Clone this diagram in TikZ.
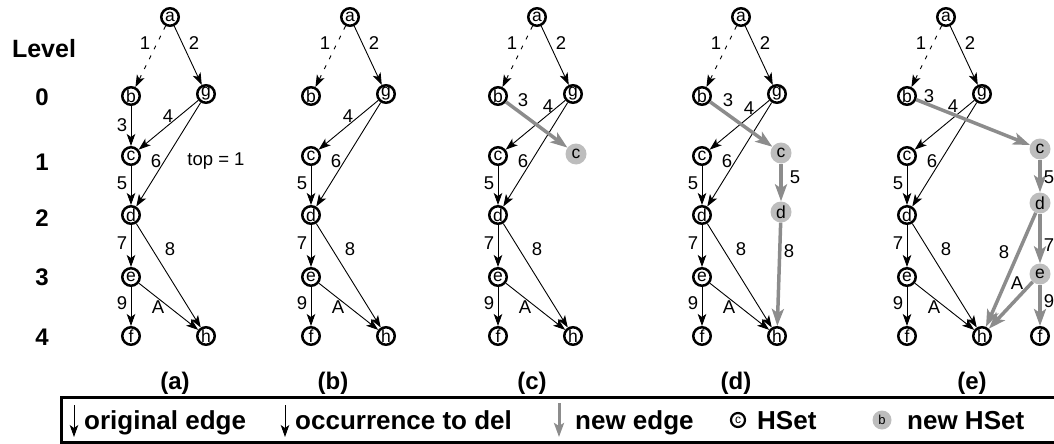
\documentclass[tikz,border=0pt]{standalone}
\usepackage{fontspec}
\setmainfont{Liberation Sans}
\usetikzlibrary{arrows.meta}
\definecolor{hsetgrey}{HTML}{BDBDBD}
\definecolor{newedgegrey}{HTML}{8C8C8C}

\tikzset{
  hset/.style={circle, draw=black, line width=2.5pt, minimum size=17.5pt, inner sep=0pt,
    font=\fontsize{17.5}{17.5}\selectfont},
  newhset/.style={circle, fill=hsetgrey, minimum size=21pt, inner sep=0pt,
    font=\fontsize{17.5}{17.5}\selectfont},
  edge/.style={line width=0.9pt, -{Stealth[length=12pt,width=8.5pt,inset=3pt]}},
  deledge/.style={edge, dash pattern=on 4pt off 7pt},
  newedge/.style={line width=3.5pt, draw=newedgegrey,
    -{Stealth[length=17pt,width=12pt,inset=4pt]}},
  lab/.style={inner sep=0pt, font=\fontsize{18.5}{18.5}\selectfont},
  boldlab/.style={inner sep=0pt, font=\fontsize{24}{24}\selectfont\bfseries},
  legtext/.style={inner sep=0pt, anchor=base west, font=\fontsize{26}{26}\selectfont\bfseries},
}

% one copy of the graph: #1 name prefix, #2 x offset, #3 position of label 4
\newcommand\graphpanel[3]{%
  \begin{scope}[shift={(#2,0)}]
    \node[hset] (#1a) at (170,17) {a};
    \node[hset] (#1b) at (131,96) {b};
    \node[hset] (#1g) at (206,94) {g};
    \node[hset] (#1c) at (131,156) {c};
    \node[hset] (#1d) at (131,215) {d};
    \node[hset] (#1e) at (131,277) {e};
    \node[hset] (#1f) at (131,336) {f};
    \node[hset] (#1h) at (206,336) {h};
    \draw[deledge] (#1a) -- (#1b);
    \draw[edge] (#1a) -- (#1g);
    \draw[edge] (#1g) -- (#1c);
    \draw[edge] (#1g) -- (#1d);
    \draw[edge] (#1c) -- (#1d);
    \draw[edge] (#1d) -- (#1e);
    \draw[edge] (#1d) -- (#1h);
    \draw[edge] (#1e) -- (#1f);
    \draw[edge] (#1e) -- (#1h);
    \node[lab] (#1l1) at (145,43) {1};
    \node[lab] (#1l2) at (194,43) {2};
    \node[lab] (#1l4) at (#3) {4};
    \node[lab] (#1l6) at (156,161) {6};
    \node[lab] (#1l5) at (122,183) {5};
    \node[lab] (#1l7) at (122,243) {7};
    \node[lab] (#1l8) at (170,249) {8};
    \node[lab] (#1l9) at (122,303) {9};
    \node[lab] (#1lA) at (158,307) {A};
  \end{scope}}

\begin{document}
\begin{tikzpicture}[x=1pt, y=-1pt]
  \useasboundingbox (0,0) rectangle (1054,444);

  % level column
  \node[boldlab, font=\fontsize{25}{25}\selectfont\bfseries] (level) at (44,49) {Level};
  \node[boldlab] (lv0) at (42,97) {0};
  \node[boldlab] (lv1) at (42,162) {1};
  \node[boldlab] (lv2) at (42,218) {2};
  \node[boldlab] (lv3) at (42,277) {3};
  \node[boldlab] (lv4) at (42,337) {4};

  % the five stages
  \graphpanel{pa}{0}{168,116}
  \graphpanel{pb}{180}{168,116}
  \graphpanel{pc}{367}{181,106}
  \graphpanel{pd}{571}{178,108}
  \graphpanel{pe}{776}{177,106}

  % (a): edge 3 still present
  \draw[edge] (pab) -- (pac);
  \node[lab] (pal3) at (122,125) {3};
  \node[lab] (top) at (216,161) {top = 1};

  % (c): c moved into the new HSet
  \node[newhset] (pcC) at (576,154) {c};
  \draw[newedge] (pcb) -- (pcC);
  \node[lab] (pcl3) at (523,100) {3};

  % (d): c and d in the new HSet
  \node[newhset] (pdC) at (781,153) {c};
  \node[newhset] (pdD) at (781,212) {d};
  \draw[newedge] (pdb) -- (pdC);
  \draw[newedge] (pdC) -- (pdD);
  \draw[newedge] (pdD) -- (pdh);
  \node[lab] (pdl3) at (728,100) {3};
  \node[lab] (pdl5) at (795,177) {5};
  \node[lab] (pdl8) at (789,251) {8};

  % (e): c, d and e in the new HSet
  \node[newhset] (peC) at (1040,149) {c};
  \node[newhset] (peD) at (1040,203) {d};
  \node[newhset] (peE) at (1040,274) {e};
  \node[hset] (peF) at (1040,336) {f};
  \draw[newedge] (peb) -- (peC);
  \draw[newedge] (peC) -- (peD);
  \draw[newedge] (peD) -- (peE);
  \draw[newedge] (peD) -- (peh);
  \draw[newedge] (peE) -- (peh);
  \draw[newedge] (peE) -- (peF);
  \node[lab] (pel3) at (929,96) {3};
  \node[lab] (pel5) at (1049,177) {5};
  \node[lab] (pel7) at (1049,245) {7};
  \node[lab] (pel8) at (1004,252) {8};
  \node[lab] (pelA) at (1017,283) {A};
  \node[lab] (pel9) at (1049,301) {9};

  % captions
  \node[boldlab, anchor=base] (capa) at (175,389) {(a)};
  \node[boldlab, anchor=base] (capb) at (333,389) {(b)};
  \node[boldlab, anchor=base] (capc) at (532,389) {(c)};
  \node[boldlab, anchor=base] (capd) at (736,389) {(d)};
  \node[boldlab, anchor=base] (cape) at (972,389) {(e)};

  % legend
  \draw[line width=3pt] (61,397) rectangle (1080,442);
  \coordinate (k1s) at (74,405);  \coordinate (k1e) at (74,437);
  \coordinate (k2s) at (285,405); \coordinate (k2e) at (285,437);
  \coordinate (k3s) at (559,403); \coordinate (k3e) at (559,437);
  \draw[edge] (k1s) -- (k1e);
  \node[legtext] (kt1) at (84,429) {original edge};
  \draw[edge] (k2s) -- (k2e);
  \node[legtext] (kt2) at (295,429) {occurrence to del};
  \draw[newedge, line width=3pt, -{Stealth[length=14pt,width=10pt,inset=3pt]}] (k3s) -- (k3e);
  \node[legtext] (kt3) at (575,429) {new edge};
  \node[hset, minimum size=14pt, line width=2.2pt, font=\fontsize{12}{12}\selectfont] (kc) at (738,420) {c};
  \node[legtext] (kt4) at (757,429) {HSet};
  \node[newhset, minimum size=19pt, font=\fontsize{13}{13}\selectfont] (kb) at (882,420) {b};
  \node[legtext] (kt5) at (907,429) {new HSet};
\end{tikzpicture}
\end{document}
